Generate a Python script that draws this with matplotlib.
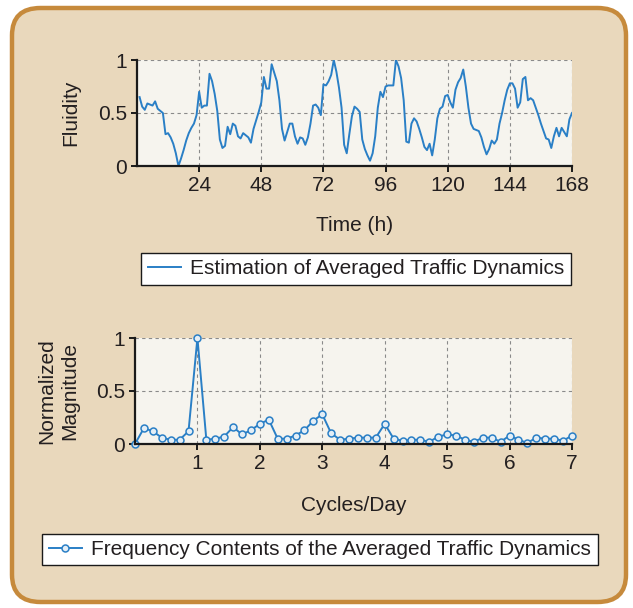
import numpy as np
import matplotlib.pyplot as plt
from matplotlib.patches import FancyBboxPatch

plt.switch_backend('Agg')
plt.rcParams['font.family'] = ['Liberation Sans', 'DejaVu Sans']

# hourly fluidity estimate over one week (hours 1..168)
hours = np.arange(1, 169)
fluidity = [
    0.65, 0.56, 0.53, 0.59, 0.58, 0.57, 0.61, 0.54, 0.52, 0.50, 0.30, 0.31,
    0.27, 0.21, 0.12, 0.00, 0.07, 0.15, 0.24, 0.31, 0.36, 0.40, 0.48, 0.70,
    0.55, 0.57, 0.57, 0.87, 0.80, 0.68, 0.52, 0.25, 0.17, 0.19, 0.37, 0.30,
    0.40, 0.38, 0.28, 0.26, 0.31, 0.29, 0.27, 0.22, 0.35, 0.43, 0.51, 0.60,
    0.84, 0.73, 0.73, 0.96, 0.88, 0.80, 0.62, 0.35, 0.24, 0.32, 0.40, 0.40,
    0.28, 0.21, 0.27, 0.26, 0.20, 0.27, 0.40, 0.57, 0.58, 0.55, 0.48, 0.77,
    0.76, 0.80, 0.86, 1.00, 0.89, 0.74, 0.55, 0.20, 0.12, 0.30, 0.47, 0.56,
    0.54, 0.51, 0.25, 0.16, 0.10, 0.05, 0.12, 0.28, 0.55, 0.70, 0.65, 0.75,
    0.76, 0.76, 0.76, 1.00, 0.94, 0.83, 0.62, 0.23, 0.22, 0.40, 0.45, 0.42,
    0.35, 0.27, 0.18, 0.15, 0.21, 0.10, 0.25, 0.45, 0.54, 0.56, 0.66, 0.67,
    0.60, 0.55, 0.72, 0.79, 0.83, 0.91, 0.75, 0.55, 0.40, 0.35, 0.34, 0.33,
    0.27, 0.18, 0.11, 0.16, 0.24, 0.21, 0.25, 0.40, 0.50, 0.62, 0.72, 0.78,
    0.78, 0.73, 0.55, 0.60, 0.82, 0.84, 0.62, 0.64, 0.62, 0.55, 0.48, 0.40,
    0.33, 0.26, 0.25, 0.17, 0.28, 0.36, 0.28, 0.36, 0.32, 0.28, 0.44, 0.50,
]

# normalized spectrum, k/7 cycles per day, k = 0..49
cycles = np.arange(50) / 7
magnitude = [
    0.00, 0.15, 0.12, 0.06, 0.04, 0.04, 0.12, 1.00, 0.04, 0.05,
    0.07, 0.16, 0.09, 0.13, 0.19, 0.23, 0.05, 0.05, 0.08, 0.13,
    0.22, 0.28, 0.10, 0.04, 0.05, 0.06, 0.06, 0.06, 0.19, 0.05,
    0.03, 0.04, 0.04, 0.02, 0.07, 0.09, 0.08, 0.04, 0.02, 0.06,
    0.06, 0.02, 0.08, 0.04, 0.01, 0.06, 0.05, 0.05, 0.03, 0.08,
]

time_ticks = [24, 48, 72, 96, 120, 144, 168]
cycle_ticks = [1, 2, 3, 4, 5, 6, 7]
y_ticks = [0, 0.5, 1]

line_color = '#2a7fc6'
text_color = '#231f20'
fs = 15

fig = plt.figure(figsize=(6.33, 6.08), dpi=100)
fig.patch.set_facecolor('white')

box = FancyBboxPatch(
    (12 / 633, 6 / 608), 614 / 633, 594 / 608,
    boxstyle='round,pad=0,rounding_size=0.045',
    transform=fig.transFigure,
    facecolor='#e9d8bc', edgecolor='#c68a3c', linewidth=3.2,
    zorder=-10
)
fig.add_artist(box)


def style_axes(ax):
    ax.set_facecolor('#f6f4ee')
    for s in ['top', 'right']:
        ax.spines[s].set_visible(False)
    for s in ['left', 'bottom']:
        ax.spines[s].set_linewidth(1.6)
        ax.spines[s].set_color('#1a1a1a')
    ax.tick_params(direction='out', length=4, width=1.4, pad=3,
                   labelsize=fs, colors='#1a1a1a', labelcolor=text_color)
    ax.grid(True, color='#8a8a8a', linestyle=(0, (3, 3)), linewidth=0.8)
    ax.set_axisbelow(True)
    ax.set_ylim(0, 1)
    ax.set_yticks(y_ticks)
    ax.set_yticklabels(['0', '0.5', '1'])


ax1 = fig.add_axes([137 / 633, 1 - 166 / 608, 435 / 633, 106 / 608])
style_axes(ax1)
l1, = ax1.plot(hours, fluidity, color=line_color, linewidth=1.4)
ax1.set_xlim(0, 168)
ax1.set_xticks(time_ticks)
ax1.set_xlabel('Time (h)', fontsize=fs, color=text_color, labelpad=15)
ax1.set_ylabel('Fluidity', fontsize=fs, color=text_color, labelpad=13)

ax2 = fig.add_axes([135 / 633, 1 - 444 / 608, 437 / 633, 106 / 608])
style_axes(ax2)
l2, = ax2.plot(cycles, magnitude, color=line_color, linewidth=1.4,
               marker='o', markersize=5, markerfacecolor='#e4eef6',
               markeredgecolor=line_color, markeredgewidth=1.1, clip_on=False)
ax2.set_xlim(0, 7)
ax2.set_xticks(cycle_ticks)
ax2.set_xlabel('Cycles/Day', fontsize=fs, color=text_color, labelpad=17)
ax2.set_ylabel('Normalized\nMagnitude', fontsize=fs, color=text_color,
               labelpad=12, linespacing=1.3)

leg_kw = dict(loc='center', fontsize=fs, frameon=True, fancybox=False,
              framealpha=1, edgecolor='#1a1a1a', handlelength=1.6,
              handletextpad=0.45, borderpad=0.3, borderaxespad=0)
leg1 = fig.legend([l1], ['Estimation of Averaged Traffic Dynamics'],
                  bbox_to_anchor=(356 / 633, 1 - 269 / 608), **leg_kw)
leg2 = fig.legend([l2], ['Frequency Contents of the Averaged Traffic Dynamics'],
                  bbox_to_anchor=(320 / 633, 1 - 549.5 / 608), **leg_kw)
for leg in (leg1, leg2):
    leg.get_frame().set_linewidth(1.0)
    for t in leg.get_texts():
        t.set_color(text_color)

plt.savefig('out.png', dpi=100)
plt.close('all')
